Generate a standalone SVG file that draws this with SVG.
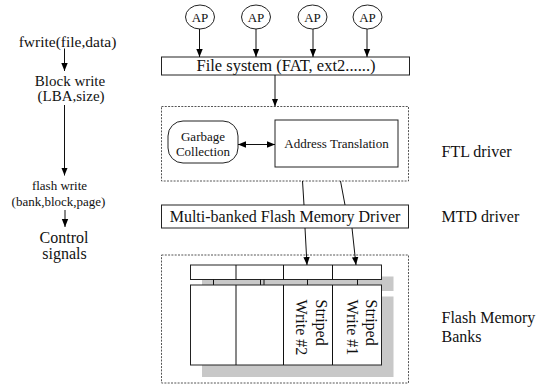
<svg xmlns="http://www.w3.org/2000/svg" width="543" height="387" viewBox="0 0 543 387">
<defs>
<marker id="ah" markerWidth="8" markerHeight="11" refX="10" refY="4" orient="auto" markerUnits="userSpaceOnUse" viewBox="0 0 10 8">
<path d="M0,0 L10,4 L0,8 Z" fill="#000"/>
</marker>
<marker id="ahs" markerWidth="8" markerHeight="11" refX="0" refY="4" orient="auto" markerUnits="userSpaceOnUse" viewBox="0 0 10 8">
<path d="M10,0 L0,4 L10,8 Z" fill="#000"/>
</marker>
<style>
text{font-family:"Liberation Serif","Times New Roman",serif;fill:#111;}
.box{fill:#fff;stroke:#222;stroke-width:1;}
.dash{fill:none;stroke:#555;stroke-width:1;stroke-dasharray:2,1.3;}
.ln{stroke:#111;stroke-width:1;fill:none;}
.arr{stroke:#111;stroke-width:1;fill:none;marker-end:url(#ah);}
.sh{fill:#c8c8c8;stroke:none;}
.c{text-anchor:middle;}
</style>
</defs>

<g id="left-labels">
<text x="67.5" y="46.5" class="c" font-size="15.5">fwrite(file,data)</text>
<text x="70" y="86" class="c" font-size="15">Block write</text>
<text x="71" y="101" class="c" font-size="15">(LBA,size)</text>
<text x="59.5" y="190" class="c" font-size="13">flash write</text>
<text x="58.5" y="205.5" class="c" font-size="13">(bank,block,page)</text>
<text x="64" y="243" class="c" font-size="16">Control</text>
<text x="64.5" y="258.5" class="c" font-size="16">signals</text>
</g>

<g id="right-labels">
<text x="441.5" y="157" font-size="16">FTL driver</text>
<text x="441.5" y="222" font-size="16">MTD driver</text>
<text x="441.5" y="323" font-size="16">Flash Memory</text>
<text x="441.5" y="341.5" font-size="16">Banks</text>
</g>

<g id="ap1"><ellipse cx="200" cy="17" rx="14.5" ry="12" class="box"/><text x="200" y="21.5" class="c" font-size="13">AP</text></g>
<g id="ap2"><ellipse cx="256" cy="17" rx="14.5" ry="12" class="box"/><text x="256" y="21.5" class="c" font-size="13">AP</text></g>
<g id="ap3"><ellipse cx="312.5" cy="17" rx="14.5" ry="12" class="box"/><text x="312.5" y="21.5" class="c" font-size="13">AP</text></g>
<g id="ap4"><ellipse cx="367.5" cy="17" rx="14.5" ry="12" class="box"/><text x="367.5" y="21.5" class="c" font-size="13">AP</text></g>

<g id="filesystem"><rect x="161.5" y="57" width="248" height="18" class="box"/><text x="286" y="71" class="c" font-size="16.5">File system (FAT, ext2......)</text></g>

<g id="ftl"><rect x="161.5" y="106.5" width="247" height="74.5" class="dash"/></g>
<g id="gc"><rect x="168" y="121" width="70" height="42" rx="15" ry="15" class="box"/><text x="203" y="140.5" class="c" font-size="13">Garbage</text><text x="203" y="155.5" class="c" font-size="13">Collection</text></g>
<g id="at"><rect x="275" y="120" width="123" height="47" class="box"/><text x="336.5" y="148" class="c" font-size="13">Address Translation</text></g>

<g id="mtd"><rect x="161.5" y="205" width="247" height="23" class="box"/><text x="285" y="222" class="c" font-size="16">Multi-banked Flash Memory Driver</text></g>

<g id="banks">
<rect x="161.5" y="255" width="247" height="128" class="dash"/>
<rect x="202" y="276.5" width="191.5" height="14.5" class="sh"/>
<rect x="202" y="296.5" width="191.5" height="80.5" class="sh"/>
<rect x="190.5" y="265" width="191" height="14.5" class="box"/>
<line x1="236" y1="265" x2="236" y2="279.5" class="ln"/>
<line x1="283.5" y1="265" x2="283.5" y2="279.5" class="ln"/>
<line x1="332.5" y1="265" x2="332.5" y2="279.5" class="ln"/>
<line x1="213.5" y1="279.5" x2="213.5" y2="285" class="ln"/>
<line x1="260.5" y1="279.5" x2="260.5" y2="285" class="ln"/>
<line x1="264" y1="279.5" x2="264" y2="287" class="ln"/>
<line x1="307.5" y1="279.5" x2="307.5" y2="285" class="ln"/>
<line x1="357.5" y1="279.5" x2="357.5" y2="285" class="ln"/>
<rect x="190.5" y="285" width="191" height="80" class="box"/>
<line x1="236" y1="285" x2="236" y2="365" class="ln"/>
<line x1="283.5" y1="285" x2="283.5" y2="365" class="ln"/>
<line x1="332.5" y1="285" x2="332.5" y2="365" class="ln"/>
<g font-size="16">
<text transform="translate(315.5,299.5) rotate(90)">Striped</text>
<text transform="translate(296,299.5) rotate(90)">Write #2</text>
<text transform="translate(366,299.5) rotate(90)">Striped</text>
<text transform="translate(346.5,299.5) rotate(90)">Write #1</text>
</g>
</g>

<g id="connectors">
<line x1="64.5" y1="48.5" x2="64.5" y2="71" class="arr"/>
<line x1="64.5" y1="105" x2="64.5" y2="175.5" class="arr"/>
<line x1="65" y1="210" x2="65" y2="227" class="arr"/>
<line x1="199.5" y1="29" x2="199.5" y2="57" class="arr"/>
<line x1="256" y1="29" x2="256" y2="57" class="arr"/>
<line x1="313" y1="29" x2="313" y2="57" class="arr"/>
<line x1="367" y1="29" x2="367" y2="57" class="arr"/>
<line x1="275" y1="75" x2="275" y2="106.5" class="arr"/>
<line x1="238" y1="144.5" x2="275" y2="144.5" class="ln" marker-start="url(#ahs)" marker-end="url(#ah)"/>
<line x1="302.5" y1="181" x2="304" y2="205" class="ln"/>
<line x1="340.5" y1="181" x2="345" y2="205" class="ln"/>
<line x1="305" y1="228" x2="307" y2="265" class="arr"/>
<line x1="352" y1="228" x2="356" y2="265" class="arr"/>
</g>
</svg>
